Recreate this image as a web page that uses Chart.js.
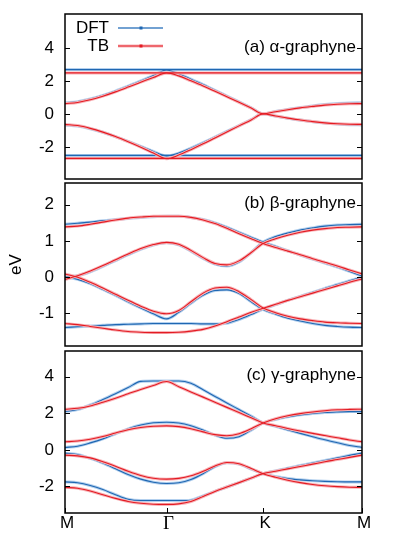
<!DOCTYPE html>
<html><head><meta charset="utf-8">
<script src="https://cdn.jsdelivr.net/npm/chart.js@4.4.1/dist/chart.umd.min.js"></script>
<style>
html,body{margin:0;padding:0;background:#fff;}
#wrap{position:relative;width:395px;height:537px;overflow:hidden;}
canvas{position:absolute;left:0;}
</style></head><body>
<div id="wrap">
<canvas id="ca" style="top:0px" width="395" height="181"></canvas>
<canvas id="cb" style="top:181px" width="395" height="168"></canvas>
<canvas id="cc" style="top:349px" width="395" height="188"></canvas>
</div>
<script>
// ---- k-path (fraction of M-Γ-K-M path) ----
const kpts = [0,0.0425,0.085,0.1275,0.17,0.2125,0.255,0.2975,0.342,0.383,0.424,0.465,0.505,0.545,0.586,0.627,0.667,0.709,0.75,0.792,0.834,0.875,0.917,0.958,1];
const xTickPos = [0, 0.342, 0.667, 1];
const xTickLabels = ['M', 'Γ', 'K', 'M'];
const seriesNames = ['DFT', 'TB'];

// ---- (a) α-graphyne ----
const a_dft_flatHi = [2.68,2.68,2.68,2.68,2.68,2.68,2.68,2.68,2.68,2.68,2.68,2.68,2.68,2.68,2.68,2.68,2.68,2.68,2.68,2.68,2.68,2.68,2.68,2.68,2.68];
const a_dft_up = [0.67,0.74,0.90,1.12,1.38,1.68,1.99,2.32,2.66,2.42,2.10,1.77,1.43,1.08,0.72,0.36,0.00,0.14,0.27,0.38,0.48,0.56,0.62,0.66,0.67];
const a_dft_dn = [-0.67,-0.74,-0.90,-1.12,-1.38,-1.67,-1.97,-2.28,-2.55,-2.38,-2.08,-1.75,-1.41,-1.06,-0.71,-0.35,0.00,-0.14,-0.27,-0.38,-0.48,-0.56,-0.62,-0.66,-0.67];
const a_dft_flatLo = [-2.52,-2.52,-2.52,-2.52,-2.52,-2.52,-2.52,-2.52,-2.52,-2.52,-2.52,-2.52,-2.52,-2.52,-2.52,-2.52,-2.52,-2.52,-2.52,-2.52,-2.52,-2.52,-2.52,-2.52,-2.52];
const a_tb_flatHi = [2.48,2.48,2.48,2.48,2.48,2.48,2.48,2.48,2.48,2.48,2.48,2.48,2.48,2.48,2.48,2.48,2.48,2.48,2.48,2.48,2.48,2.48,2.48,2.48,2.48];
const a_tb_up = [0.62,0.69,0.85,1.07,1.33,1.62,1.92,2.20,2.48,2.30,2.00,1.69,1.37,1.04,0.70,0.35,0.00,0.13,0.25,0.36,0.45,0.53,0.58,0.61,0.62];
const a_tb_dn = [-0.64,-0.71,-0.88,-1.11,-1.38,-1.69,-2.02,-2.37,-2.72,-2.50,-2.17,-1.82,-1.46,-1.10,-0.73,-0.37,0.00,-0.13,-0.26,-0.37,-0.47,-0.55,-0.60,-0.63,-0.64];
const a_tb_flatLo = [-2.70,-2.70,-2.70,-2.70,-2.70,-2.70,-2.70,-2.70,-2.70,-2.70,-2.70,-2.70,-2.70,-2.70,-2.70,-2.70,-2.70,-2.70,-2.70,-2.70,-2.70,-2.70,-2.70,-2.70,-2.70];
const a_yticks = [-2, 0, 2, 4];

// ---- (b) β-graphyne ----
const b_dft_1 = [1.46,1.49,1.52,1.56,1.59,1.62,1.65,1.67,1.68,1.68,1.65,1.59,1.50,1.38,1.24,1.10,0.97,0.85,0.73,0.61,0.50,0.39,0.28,0.16,0.03];
const b_dft_2 = [0.00,0.04,0.15,0.30,0.46,0.62,0.77,0.89,0.95,0.89,0.72,0.52,0.36,0.31,0.42,0.68,0.97,1.12,1.22,1.30,1.36,1.41,1.44,1.45,1.46];
const b_dft_3 = [0.00,-0.06,-0.18,-0.34,-0.50,-0.68,-0.85,-1.01,-1.15,-0.97,-0.72,-0.50,-0.37,-0.35,-0.45,-0.68,-0.89,-1.02,-1.13,-1.21,-1.28,-1.33,-1.36,-1.38,-1.39];
const b_dft_4 = [-1.39,-1.37,-1.35,-1.33,-1.31,-1.30,-1.29,-1.28,-1.28,-1.28,-1.28,-1.29,-1.29,-1.27,-1.17,-1.03,-0.88,-0.76,-0.64,-0.53,-0.42,-0.31,-0.20,-0.10,0.00];
const b_tb_1 = [1.39,1.41,1.46,1.52,1.58,1.63,1.66,1.68,1.68,1.68,1.65,1.58,1.48,1.35,1.20,1.06,0.93,0.82,0.72,0.62,0.51,0.41,0.31,0.20,0.09];
const b_tb_2 = [-0.06,0.04,0.17,0.32,0.48,0.64,0.79,0.90,0.96,0.91,0.74,0.54,0.38,0.34,0.45,0.68,0.93,1.06,1.16,1.24,1.30,1.34,1.37,1.38,1.39];
const b_tb_3 = [0.09,0.00,-0.14,-0.30,-0.47,-0.64,-0.80,-0.94,-1.01,-0.92,-0.68,-0.44,-0.30,-0.28,-0.40,-0.62,-0.85,-0.98,-1.08,-1.15,-1.20,-1.24,-1.26,-1.27,-1.28];
const b_tb_4 = [-1.28,-1.31,-1.36,-1.41,-1.46,-1.50,-1.52,-1.53,-1.53,-1.52,-1.49,-1.44,-1.35,-1.23,-1.10,-0.97,-0.86,-0.75,-0.64,-0.54,-0.44,-0.34,-0.24,-0.14,-0.05];
const b_yticks = [-1, 0, 1, 2];

// ---- (c) γ-graphyne ----
const c_dft_1 = [2.09,2.20,2.45,2.75,3.07,3.40,3.74,3.76,3.76,3.76,3.64,3.28,2.92,2.56,2.20,1.84,1.47,1.28,1.09,0.90,0.72,0.55,0.39,0.24,0.13];
const c_dft_2 = [0.13,0.20,0.38,0.60,0.88,1.15,1.36,1.48,1.51,1.47,1.32,1.08,0.80,0.63,0.72,1.08,1.47,1.66,1.80,1.91,1.99,2.04,2.07,2.09,2.09];
const c_dft_3 = [-0.18,-0.25,-0.47,-0.72,-1.03,-1.35,-1.60,-1.77,-1.84,-1.80,-1.62,-1.30,-0.92,-0.70,-0.78,-1.05,-1.30,-1.46,-1.57,-1.64,-1.69,-1.72,-1.74,-1.75,-1.75];
const c_dft_4 = [-1.75,-1.80,-1.95,-2.17,-2.45,-2.70,-2.77,-2.77,-2.77,-2.77,-2.75,-2.51,-2.27,-2.03,-1.79,-1.54,-1.30,-1.15,-1.00,-0.86,-0.72,-0.58,-0.44,-0.30,-0.18];
const c_tb_1 = [2.22,2.27,2.40,2.60,2.82,3.06,3.30,3.52,3.73,3.45,3.16,2.88,2.60,2.32,2.04,1.75,1.47,1.32,1.17,1.03,0.90,0.78,0.66,0.54,0.44];
const c_tb_2 = [0.44,0.48,0.58,0.73,0.92,1.10,1.22,1.29,1.31,1.27,1.15,0.98,0.83,0.77,0.88,1.15,1.47,1.70,1.86,1.98,2.07,2.14,2.19,2.21,2.22];
const c_tb_3 = [-0.29,-0.33,-0.44,-0.65,-0.90,-1.17,-1.40,-1.55,-1.60,-1.56,-1.42,-1.17,-0.88,-0.69,-0.76,-1.02,-1.30,-1.50,-1.66,-1.79,-1.89,-1.96,-2.01,-2.04,-2.05];
const c_tb_4 = [-2.05,-2.10,-2.25,-2.45,-2.65,-2.82,-2.92,-2.97,-2.98,-2.95,-2.82,-2.55,-2.27,-2.03,-1.79,-1.54,-1.30,-1.17,-1.04,-0.91,-0.78,-0.65,-0.53,-0.41,-0.29];
const c_yticks = [-2, 0, 2, 4];

// ---- styling ----
const SANS = '"Liberation Sans", Arial, sans-serif';
const SERIF = '"Liberation Serif", "Times New Roman", serif';
const FS = 17;
const DFT_CORE = '#1f67b2', DFT_HALO = '#b3d0ee';
const TB_CORE = '#e31b23', TB_HALO = '#f8b4b8';

function buildDatasets(dftBands, tbBands) {
  const ds = [];
  const add = (arr, core, halo, ord) => {
    const data = kpts.map((k, i) => ({x: k, y: arr[i]}));
    const common = {data, pointRadius: 0, fill: false, cubicInterpolationMode: 'monotone', borderCapStyle: 'round'};
    ds.push(Object.assign({}, common, {borderColor: halo, borderWidth: 3, order: ord + 1}));
    ds.push(Object.assign({}, common, {borderColor: core, borderWidth: 1.1, order: ord}));
  };
  dftBands.forEach(b => add(b, DFT_CORE, DFT_HALO, 2));
  tbBands.forEach(b => add(b, TB_CORE, TB_HALO, 0));
  return ds;
}

const framePlugin = {
  id: 'frame',
  afterDatasetsDraw(chart, args, opts) {
    const {ctx, chartArea: a, scales: {x, y}} = chart;
    ctx.save();
    ctx.strokeStyle = '#000';
    ctx.lineWidth = 1;
    y.ticks.forEach(t => {
      const py = Math.round(y.getPixelForValue(t.value)) + 0.5;
      ctx.beginPath(); ctx.moveTo(a.left, py); ctx.lineTo(a.left + 5, py); ctx.stroke();
      ctx.beginPath(); ctx.moveTo(a.right - 5, py); ctx.lineTo(a.right, py); ctx.stroke();
    });
    if (opts.xticks) {
      xTickPos.forEach(v => {
        const px = Math.round(x.getPixelForValue(v)) + 0.5;
        ctx.beginPath(); ctx.moveTo(px, a.bottom); ctx.lineTo(px, a.bottom - 5); ctx.stroke();
      });
    }
    ctx.lineWidth = 1.5;
    ctx.strokeRect(a.left, a.top, a.right - a.left, a.bottom - a.top);
    // panel label
    ctx.fillStyle = '#000';
    ctx.font = FS + 'px ' + SANS;
    ctx.textAlign = 'right';
    ctx.textBaseline = 'middle';
    ctx.fillText(opts.label, a.right - 6, y.getPixelForValue(opts.labelY) - 1);
    // legend
    if (opts.legend) {
      const rows = [
        {name: seriesNames[0], yy: 28, core: DFT_CORE, halo: DFT_HALO, hw: 1.6, cw: 1.1},
        {name: seriesNames[1], yy: 46, core: TB_CORE, halo: TB_HALO, hw: 3.0, cw: 1.1}
      ];
      rows.forEach(r => {
        ctx.fillStyle = '#000';
        ctx.textAlign = 'right';
        ctx.fillText(r.name, 109, r.yy);
        ctx.strokeStyle = r.halo; ctx.lineWidth = r.hw;
        ctx.beginPath(); ctx.moveTo(118, r.yy); ctx.lineTo(163, r.yy); ctx.stroke();
        ctx.strokeStyle = r.core; ctx.lineWidth = r.cw;
        ctx.beginPath(); ctx.moveTo(118, r.yy); ctx.lineTo(163, r.yy); ctx.stroke();
        ctx.fillStyle = r.core;
        ctx.fillRect(139.5, r.yy - 1.5, 3, 3);
      });
    }
    ctx.restore();
  }
};

function makeChart(id, dftBands, tbBands, ymin, ymax, yticks, pad, cfg) {
  const xScale = {
    type: 'linear', min: 0, max: 1,
    display: !!cfg.showX,
    grid: {display: false, drawTicks: false},
    border: {display: false},
    afterBuildTicks: s => { s.ticks = xTickPos.map(v => ({value: v})); },
    afterFit: s => { if (cfg.showX) s.height = 24; s.paddingLeft = 0; s.paddingRight = 0; },
    ticks: {
      autoSkip: false, maxRotation: 0, minRotation: 0, padding: 0, labelOffset: 2, color: '#000',
      callback: (v, i) => xTickLabels[i],
      font: c => (c.index === 1 ? {family: SERIF, size: 19} : {family: SANS, size: FS})
    }
  };
  const yScale = {
    type: 'linear', min: ymin, max: ymax,
    grid: {display: false, drawTicks: false},
    border: {display: false},
    afterBuildTicks: s => { s.ticks = yticks.map(v => ({value: v})); },
    afterFit: s => { s.width = 65; s.paddingTop = 0; s.paddingBottom = 0; },
    ticks: {color: '#000', padding: 11, font: {family: SANS, size: FS}},
    title: {display: !!cfg.yTitle, text: cfg.yTitle || '', color: '#000', font: {family: SANS, size: FS}, padding: {top: 6, bottom: 0}}
  };
  return new Chart(document.getElementById(id), {
    type: 'line',
    data: {datasets: buildDatasets(dftBands, tbBands)},
    options: {
      responsive: false, animation: false, events: [],
      layout: {padding: pad},
      scales: {x: xScale, y: yScale},
      plugins: {
        legend: {display: false}, tooltip: {enabled: false},
        frame: {label: cfg.label, labelY: cfg.labelY, legend: !!cfg.legend, xticks: !!cfg.showX}
      }
    },
    plugins: [framePlugin]
  });
}

makeChart('ca',
  [a_dft_flatHi, a_dft_up, a_dft_dn, a_dft_flatLo],
  [a_tb_flatHi, a_tb_up, a_tb_dn, a_tb_flatLo],
  -3.95, 6.05, a_yticks, {top: 14, bottom: 2, left: 0, right: 33},
  {label: '(a) α-graphyne', labelY: 4, legend: true});

makeChart('cb',
  [b_dft_1, b_dft_2, b_dft_3, b_dft_4],
  [b_tb_1, b_tb_2, b_tb_3, b_tb_4],
  -1.9, 2.6, b_yticks, {top: 2, bottom: 3, left: 0, right: 33},
  {label: '(b) β-graphyne', labelY: 2, yTitle: 'eV'});

makeChart('cc',
  [c_dft_1, c_dft_2, c_dft_3, c_dft_4],
  [c_tb_1, c_tb_2, c_tb_3, c_tb_4],
  -3.45, 5.4, c_yticks, {top: 2, bottom: 0, left: 0, right: 33},
  {label: '(c) γ-graphyne', labelY: 4, showX: true});
</script>
</body></html>
